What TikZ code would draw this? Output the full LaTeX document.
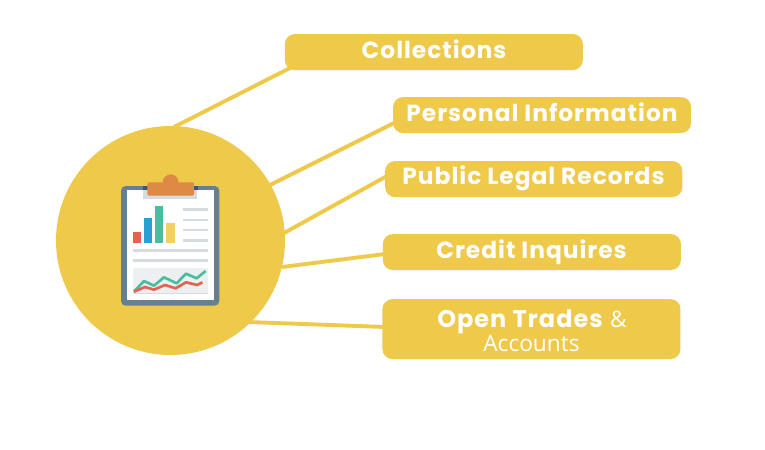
\documentclass[tikz,border=0pt]{standalone}
\usepackage{fontspec}
\setmainfont{Poppins}[LetterSpace=4.2]
\newfontfamily\lightf{Open Sans}
\usetikzlibrary{backgrounds,calc}
\definecolor{gold}{HTML}{EEC94A}
\definecolor{board}{HTML}{66808F}
\definecolor{clipor}{HTML}{DE8A45}
\definecolor{clipdk}{HTML}{2F5A7A}
\definecolor{lineg}{HTML}{D5DBDF}
\definecolor{chartbg}{HTML}{ECF0F1}
\definecolor{barr}{HTML}{E8604F}
\definecolor{barb}{HTML}{2A9FD6}
\definecolor{barg}{HTML}{4ABDA0}
\definecolor{bary}{HTML}{F2CF5E}
\tikzset{
  box/.style={fill=gold,rounded corners=7.5pt,minimum width=223.5pt,minimum height=27pt,inner sep=0pt,anchor=north west},
  link/.style={draw=gold,line width=2.9pt},
  txt/.style={text=white,inner sep=0pt,anchor=base,font=\bfseries\fontsize{17.5pt}{20pt}\selectfont},
  thin txt/.style={text=white,inner sep=0pt,anchor=base,font=\lightf\fontsize{17pt}{20pt}\selectfont}
}
\begin{document}
\begin{tikzpicture}[x=0.75pt,y=-0.75pt]
\useasboundingbox (0,0) rectangle (765,450);
\node[circle,fill=gold,minimum size=171.75pt,inner sep=0pt] (hub) at (170.5,240.5) {};
\node[box] (b1) at (284.6,33.8) {};
\node[box] (b2) at (392.8,96.8) {};
\node[box,minimum width=223pt] (b3) at (384.8,160.8) {};
\node[box] (b4) at (382.6,233.8) {};
\node[box,minimum height=45pt] (b5) at (382.2,298.8) {};
\node[txt] (t1) at (434,58) {Collections};
\node[txt] (t2) at (542,121) {Personal Information};
\node[txt] (t3) at (533.5,184.5) {Public Legal Records};
\node[txt] (t4) at (531.5,258) {Credit Inquires};
\node[txt,anchor=base west,font=\bfseries\fontsize{18pt}{20pt}\selectfont] (t5) at (437,327) {Open Trades};
\node[thin txt] (t7) at (618.5,327) {\&};
\node[thin txt] (t6) at (531.5,351) {Accounts};
\begin{pgfonlayer}{background}
\fill[white] (0,0) rectangle (765,450);
\coordinate (s1) at (174,127);
\coordinate (s2) at (270,185);
\coordinate (s3) at (284,233);
\coordinate (s4) at (282,267);
\coordinate (s5) at (248,322);
\coordinate (e1) at (292,67);
\coordinate (e2) at (395,122.5);
\coordinate (e3) at (387,176);
\coordinate (e4) at (385,254);
\coordinate (e5) at (385,327);
\draw[link] (s1) -- (e1);
\draw[link] (s2) -- (e2);
\draw[link] (s3) -- (e3);
\draw[link] (s4) -- (e4);
\draw[link] (s5) -- (e5);
\end{pgfonlayer}
% clipboard, in zoomed coordinates
\begin{scope}[shift={(110,165)},x=0.25pt,y=-0.25pt]
\fill[board,rounded corners=3.5pt] (33,63) rectangle (328,422);
\fill[white] (50,76) rectangle (312,405);
\fill[lineg] (100,76) rectangle (262,102);
\fill[clipdk] (100,63) rectangle (264,76);
\fill[clipor] (182,52) circle[radius=24];
\fill[clipor,rounded corners=1.5pt] (112,52) rectangle (252,92);
\fill[barr] (68,200) rectangle (93,235);
\fill[barb] (101,160) rectangle (127,235);
\fill[barg] (135,122) rectangle (160,235);
\fill[bary] (168,175) rectangle (194,235);
\foreach \yy in {133,165,195,226}{\fill[lineg] (218,\yy-4) rectangle (295,\yy+4);}
\foreach \yy in {256,286}{\fill[lineg] (68,\yy-4) rectangle (295,\yy+4);}
\fill[chartbg] (68,310) rectangle (295,385);
\fill[lineg] (68,384) rectangle (295,388);
\draw[barg,line width=2pt,line join=round] (72,380) -- (102,348) -- (132,362) -- (162,337) -- (200,355) -- (228,326) -- (260,340) -- (287,318);
\draw[barr,line width=2pt,line join=round] (72,380) -- (105,366) -- (132,374) -- (165,360) -- (197,370) -- (228,352) -- (262,360) -- (277,352);
\end{scope}
\end{tikzpicture}
\end{document}
